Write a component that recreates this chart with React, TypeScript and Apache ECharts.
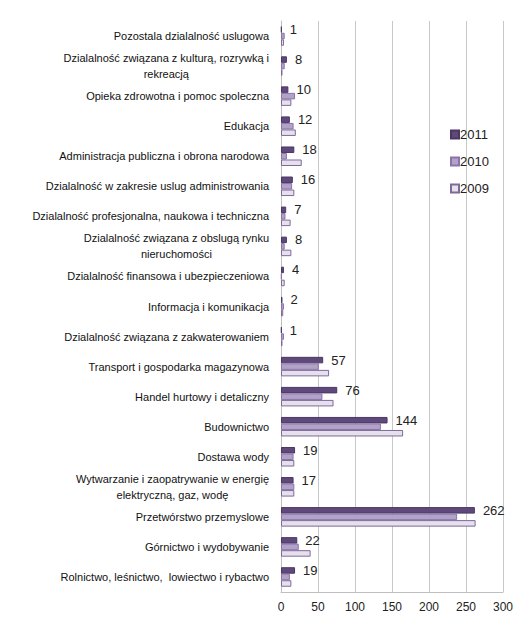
import React, { useEffect, useRef } from "react";
import * as echarts from "echarts";

const categories = [
  "Rolnictwo, leśnictwo,  lowiectwo i rybactwo",
  "Górnictwo i wydobywanie",
  "Przetwórstwo przemyslowe",
  "Wytwarzanie i zaopatrywanie w energię\nelektryczną, gaz, wodę",
  "Dostawa wody",
  "Budownictwo",
  "Handel hurtowy i detaliczny",
  "Transport i gospodarka magazynowa",
  "Dzialalność związana z zakwaterowaniem",
  "Informacja i komunikacja",
  "Dzialalność finansowa i ubezpieczeniowa",
  "Dzialalność związana z obslugą rynku\nnieruchomości",
  "Dzialalność profesjonalna, naukowa i techniczna",
  "Dzialalność w zakresie uslug administrowania",
  "Administracja publiczna i obrona narodowa",
  "Edukacja",
  "Opieka zdrowotna i pomoc spoleczna",
  "Dzialalność związana z kulturą, rozrywką i\nrekreacją",
  "Pozostala dzialalność uslugowa",
];

const values2011 = [19, 22, 262, 17, 19, 144, 76, 57, 1, 2, 4, 8, 7, 16, 18, 12, 10, 8, 1];
const values2010 = [12, 24, 238, 18, 17, 135, 56, 51, 4, 4, 1, 5, 6, 15, 8, 17, 19, 5, 5];
const values2009 = [14, 40, 263, 18, 18, 165, 71, 65, 2, 3, 5, 14, 13, 18, 28, 20, 14, 2, 4];

const xTicks = { min: 0, max: 300, interval: 50 };

const FONT = "'Liberation Sans Narrow', 'Liberation Sans', Arial, sans-serif";
const FONT2 = "'Liberation Sans', Arial, sans-serif";

export default function App() {
  const ref = useRef<HTMLDivElement>(null);
  useEffect(() => {
    if (!ref.current) return;
    const chart = echarts.init(ref.current, null, { renderer: "svg" });
    chart.setOption({
      animation: false,
      backgroundColor: "#ffffff",
      textStyle: { fontFamily: FONT },
      grid: { left: 281, right: 20, top: 21, bottom: 49, containLabel: false },
      legend: {
        orient: "vertical",
        left: 445,
        top: 123,
        icon: "rect",
        itemWidth: 8,
        itemHeight: 8,
        itemGap: 14,
        data: ["2011", "2010", "2009"],
        textStyle: { fontSize: 13, color: "#222", fontFamily: FONT2, padding: [0, 0, 0, -4] },
      },
      xAxis: {
        type: "value",
        min: xTicks.min,
        max: xTicks.max,
        interval: xTicks.interval,
        axisLine: { show: true, lineStyle: { color: "#bfbfbf", width: 1 } },
        axisTick: { show: false },
        splitLine: { show: true, lineStyle: { color: "#c8c8c8", width: 1 } },
        axisLabel: { color: "#222", fontSize: 12, margin: 9, fontFamily: FONT2 },
      },
      yAxis: {
        type: "category",
        data: categories,
        axisLine: { show: true, lineStyle: { color: "#bfbfbf", width: 1 } },
        axisTick: { show: false },
        axisLabel: {
          margin: 12,
          color: "#111",
          fontSize: 11,
          lineHeight: 16,
          interval: 0,
          formatter: (v: string) =>
            v
              .split("\n")
              .map((s) => "{c|" + s + "}")
              .join("\n"),
          rich: { c: { align: "center", fontSize: 11, lineHeight: 16, color: "#111", fontFamily: FONT } },
        },
      },
      series: [
        {
          name: "2011",
          type: "bar",
          data: values2011,
          barGap: "0%",
          barCategoryGap: "35%",
          itemStyle: { color: "#5f497a", borderColor: "#4a3863", borderWidth: 1 },
          label: {
            show: true,
            position: "right",
            distance: 8,
            fontSize: 13,
            color: "#222",
            fontFamily: FONT2,
          },
        },
        {
          name: "2010",
          type: "bar",
          data: values2010,
          barGap: "0%",
          barCategoryGap: "35%",
          itemStyle: { color: "#b3a2c7", borderColor: "#8a74aa", borderWidth: 1 },
        },
        {
          name: "2009",
          type: "bar",
          data: values2009,
          barGap: "0%",
          barCategoryGap: "35%",
          itemStyle: { color: "#e6e0ec", borderColor: "#7d6a99", borderWidth: 1 },
        },
      ],
    });
    return () => chart.dispose();
  }, []);
  return (
    <div
      ref={ref}
      style={{ position: "fixed", left: 0, top: 0, width: 523, height: 641 }}
    />
  );
}
